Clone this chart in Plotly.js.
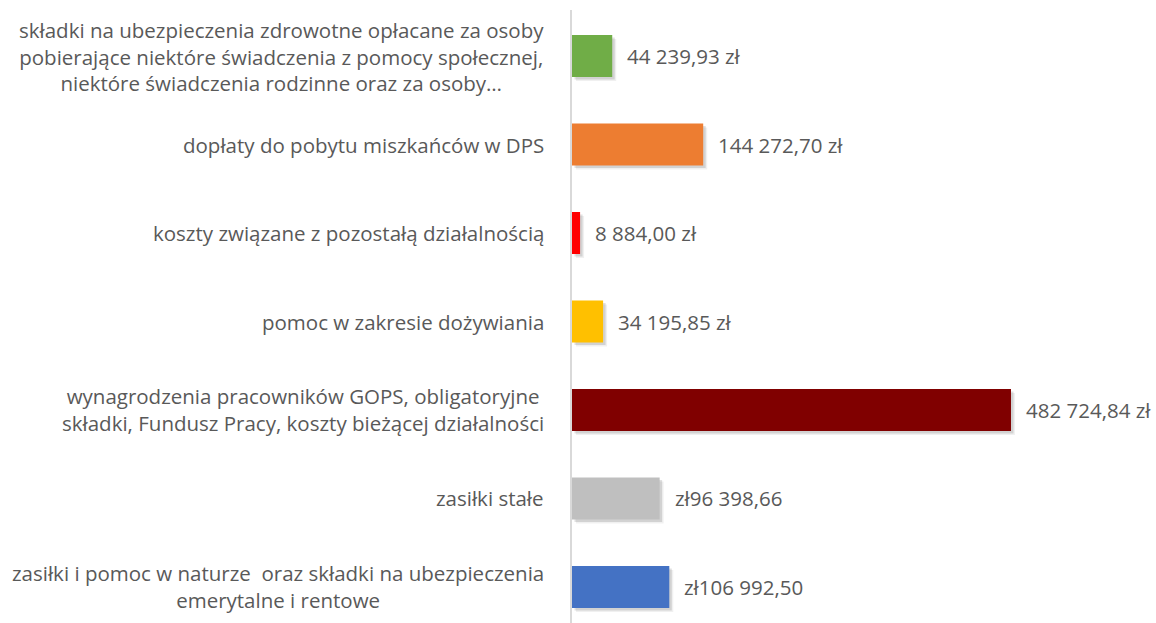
<!DOCTYPE html>
<html>
<head>
<meta charset="utf-8">
<script src="https://cdn.plot.ly/plotly-3.0.1.min.js"></script>
<style>
html,body{margin:0;padding:0;background:#fff;}
#chart{width:1156px;height:623px;}
</style>
</head>
<body>
<div id="chart"></div>
<script>
// Categories listed bottom-to-top
const categories = [
  "zasiłki i pomoc w naturze \u00a0oraz składki na ubezpieczenia<br>emerytalne i rentowe",
  "zasiłki stałe",
  "wynagrodzenia pracowników GOPS, obligatoryjne<br>składki, Fundusz Pracy, koszty bieżącej działalności",
  "pomoc w zakresie dożywiania",
  "koszty związane z pozostałą działalnością",
  "dopłaty do pobytu miszkańców w DPS",
  "składki na ubezpieczenia zdrowotne opłacane za osoby<br>pobierające niektóre świadczenia z pomocy społecznej,<br>niektóre świadczenia rodzinne oraz za osoby…"
];
const values = [106992.50, 96398.66, 482724.84, 34195.85, 8884.00, 144272.70, 44239.93];
const valueLabels = ["zł106 992,50", "zł96 398,66", "482 724,84 zł", "34 195,85 zł", "8 884,00 zł", "144 272,70 zł", "44 239,93 zł"];
const colors = ["#4472c4", "#bfbfbf", "#800000", "#ffc000", "#ff0000", "#ed7d31", "#70ad47"];

const ids = categories.map((c, i) => i);
const fontFam = "'Open Sans', 'Noto Sans', sans-serif";
const textColor = "#595959";
const barW = 0.475;

// soft drop shadow layers (drawn behind the bars)
function shadow(pxShift, alpha) {
  const dy = pxShift / 88.5;
  const dx = pxShift / 0.0009094;
  return {
    type: "bar", orientation: "h",
    x: values, y: ids, base: dx,
    width: barW, offset: -barW / 2 - dy,
    marker: {color: "rgba(0,0,0," + alpha + ")", line: {width: 0}},
    hoverinfo: "none"
  };
}

const trace = {
  type: "bar",
  orientation: "h",
  x: values,
  y: ids,
  width: barW,
  marker: {color: colors, line: {width: 0}},
  hoverinfo: "none"
};

const annotations = [];
categories.forEach((c, i) => {
  annotations.push({
    xref: "paper", yref: "y", x: 0, y: i,
    xanchor: "right", yanchor: "middle", align: "center",
    xshift: -26, showarrow: false, text: c,
    font: {family: fontFam, size: 20.5, color: textColor}
  });
  annotations.push({
    xref: "x", yref: "y", x: values[i], y: i,
    xanchor: "left", yanchor: "middle",
    xshift: 13, showarrow: false, text: valueLabels[i],
    font: {family: fontFam, size: 20.5, color: textColor}
  });
});

const layout = {
  width: 1156, height: 623,
  margin: {l: 572, r: 0, t: 10, b: 0, pad: 0},
  paper_bgcolor: "#ffffff", plot_bgcolor: "#ffffff",
  showlegend: false,
  barmode: "overlay",
  xaxis: {range: [0, 642200], showgrid: false, zeroline: false, showline: false, showticklabels: false, ticks: "", fixedrange: true},
  yaxis: {range: [-0.407, 6.52], showgrid: false, zeroline: false, showline: true, linecolor: "#d9d9d9", linewidth: 2, showticklabels: false, ticks: "", fixedrange: true},
  annotations: annotations
};

Plotly.newPlot("chart", [shadow(4, 0.06), shadow(2.5, 0.12), trace], layout, {displayModeBar: false, staticPlot: true});
</script>
</body>
</html>
